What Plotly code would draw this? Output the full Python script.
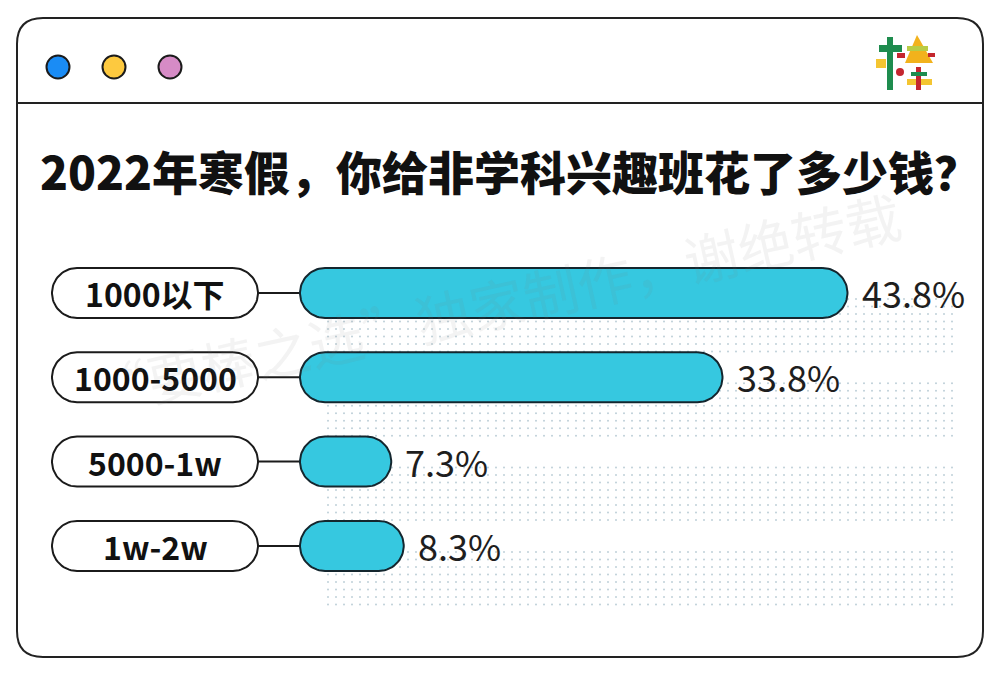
import numpy as np
import plotly.graph_objects as go

# ---------------- data ----------------
categories = ["1000以下", "1000-5000", "5000-1w", "1w-2w"]
values = [43.8, 33.8, 7.3, 8.3]
value_labels = ["43.8%", "33.8%", "7.3%", "8.3%"]
title_text = "2022年寒假，你给非学科兴趣班花了多少钱？"
watermark_text = "“要棒之选”独家制作，谢绝转载"

# ---------------- layout geometry (pixels) ----------------
W, H = 1000, 676
ORIGIN_PX = 300          # where 0 % sits
PX_PER_PCT = 12.5
ROW0_PX = 293            # centre of first row
ROW_STEP_PX = 84.3
BAR_H_PX = 50

BAR_FILL = "#36c8e0"
INK = "#1b1b1b"

X0 = -ORIGIN_PX / PX_PER_PCT
X1 = (W - ORIGIN_PX) / PX_PER_PCT
Y_BOTTOM = (H - ROW0_PX) / ROW_STEP_PX
Y_TOP = -ROW0_PX / ROW_STEP_PX


def px_to_x(px):
    return X0 + px / W * (X1 - X0)


def pill(x_left, x_right, yc, h_px):
    """closed pill outline in data units"""
    rx = (h_px / 2) / PX_PER_PCT
    ry = (h_px / 2) / ROW_STEP_PX
    t1 = np.linspace(-np.pi / 2, np.pi / 2, 40)
    t2 = np.linspace(np.pi / 2, 3 * np.pi / 2, 40)
    xs = np.concatenate([x_right - rx + rx * np.cos(t1), x_left + rx + rx * np.cos(t2)])
    ys = np.concatenate([yc + ry * np.sin(t1), yc + ry * np.sin(t2)])
    xs = np.append(xs, xs[0])
    ys = np.append(ys, ys[0])
    return xs, ys


fig = go.Figure()

# dotted background bands
dot_x = []
dot_y = []
xs_px = np.arange(328, 960, 8)
for i in range(len(categories)):
    for off in np.arange(6, 66, 7.5):
        yy = i + off / ROW_STEP_PX
        dot_x.extend(px_to_x(xs_px))
        dot_y.extend([yy] * len(xs_px))
fig.add_trace(go.Scatter(x=dot_x, y=dot_y, mode="markers",
                         marker=dict(size=2, color="#bfd0d8"),
                         hoverinfo="skip", showlegend=False))

# label pills + connectors
lab_l, lab_r = px_to_x(52), px_to_x(258)
for i, cat in enumerate(categories):
    fig.add_trace(go.Scatter(x=[lab_r, 0], y=[i, i], mode="lines",
                             line=dict(color=INK, width=2),
                             hoverinfo="skip", showlegend=False))
    lx, ly = pill(lab_l, lab_r, i, BAR_H_PX)
    fig.add_trace(go.Scatter(x=lx, y=ly, mode="lines", fill="toself",
                             fillcolor="white", line=dict(color=INK, width=2),
                             hoverinfo="skip", showlegend=False))
    fig.add_annotation(x=(lab_l + lab_r) / 2, y=i, xref="x", yref="y",
                       xanchor="center", yanchor="middle",
                       text=cat, showarrow=False,
                       font=dict(family="Noto Sans CJK SC", size=32,
                                 color="#111111", weight="bold"))

# bars
for i, v in enumerate(values):
    bx, by = pill(0, v, i, BAR_H_PX)
    fig.add_trace(go.Scatter(x=bx, y=by, mode="lines", fill="toself",
                             fillcolor=BAR_FILL, line=dict(color="#14262e", width=2),
                             hoverinfo="skip", showlegend=False))
    fig.add_annotation(x=v, y=i, xref="x", yref="y", text=value_labels[i],
                       showarrow=False, xanchor="left", yanchor="middle",
                       xshift=12, yshift=1,
                       font=dict(family="Noto Sans CJK SC", size=36,
                                 color="#1e1e1e", weight=400))


# ---------------- decoration (paper coords from pixels) ----------------
def P(px, py):
    return f"{px / W:.5f},{1 - py / H:.5f}"


shapes = []
L, T, R, B, rad = 17, 18, 983, 657, 26
card = (f"M {P(L + rad, T)} L {P(R - rad, T)} Q {P(R, T)} {P(R, T + rad)} "
        f"L {P(R, B - rad)} Q {P(R, B)} {P(R - rad, B)} L {P(L + rad, B)} "
        f"Q {P(L, B)} {P(L, B - rad)} L {P(L, T + rad)} Q {P(L, T)} {P(L + rad, T)} Z")
shapes.append(dict(type="path", xref="paper", yref="paper", path=card,
                   line=dict(color="#222222", width=2), layer="above"))
shapes.append(dict(type="line", xref="paper", yref="paper",
                   x0=L / W, x1=R / W, y0=1 - 103 / H, y1=1 - 103 / H,
                   line=dict(color="#222222", width=2)))

for cx, col in [(58, "#1a8cf5"), (114, "#fdc93f"), (170, "#d68bc6")]:
    r = 11.5
    shapes.append(dict(type="circle", xref="paper", yref="paper",
                       x0=(cx - r) / W, x1=(cx + r) / W,
                       y0=1 - (67 + r) / H, y1=1 - (67 - r) / H,
                       fillcolor=col, line=dict(color="#1b1b1b", width=2)))


def rect(x0, y0, x1, y1, col):
    return dict(type="rect", xref="paper", yref="paper", x0=x0 / W, x1=x1 / W,
                y0=1 - y1 / H, y1=1 - y0 / H, fillcolor=col, line=dict(width=0))


# logo 棒
shapes += [
    rect(887, 37, 893, 90, "#1e8c4e"),
    rect(879, 45, 902, 52, "#1e8c4e"),
    rect(876, 59, 886, 68, "#f4c531"),
    dict(type="path", xref="paper", yref="paper",
         path=f"M {P(917, 35)} L {P(933, 63)} L {P(905, 63)} Z",
         fillcolor="#f2b21c", line=dict(width=0)),
    rect(907, 46, 928, 51, "#b9cc45"),
    rect(897, 53, 905, 58, "#c4262e"),
    rect(928, 53, 935, 57, "#c4262e"),
    dict(type="circle", xref="paper", yref="paper", x0=896 / W, x1=904 / W,
         y0=1 - 76 / H, y1=1 - 68 / H, fillcolor="#c4262e", line=dict(width=0)),
    rect(907, 79, 932, 85, "#f4c531"),
    rect(916, 67, 921, 90, "#c4262e"),
    rect(911, 72, 927, 76, "#1e8c4e"),
]

fig.add_annotation(xref="paper", yref="paper", x=0.51, y=1 - 170 / H,
                   xanchor="center", yanchor="middle",
                   text=title_text, showarrow=False,
                   font=dict(family="Noto Sans CJK SC", size=46, color="#111111",
                             weight=900))

fig.add_annotation(xref="paper", yref="paper", x=496 / W, y=1 - 302 / H,
                   xanchor="center", yanchor="middle",
                   text=watermark_text, showarrow=False, textangle=-12.5,
                   font=dict(family="Noto Sans CJK SC", size=55,
                             color="rgba(120,120,120,0.09)"))

fig.update_layout(
    width=W, height=H, autosize=False,
    margin=dict(l=0, r=0, t=0, b=0),
    paper_bgcolor="white", plot_bgcolor="white",
    xaxis=dict(range=[X0, X1], visible=False, fixedrange=True),
    yaxis=dict(range=[Y_BOTTOM, Y_TOP], visible=False, fixedrange=True),
    shapes=shapes, showlegend=False,
)

fig.write_html("out.html", config={"displayModeBar": False},
               post_script="document.body.style.margin='0';document.body.style.padding='0';")
